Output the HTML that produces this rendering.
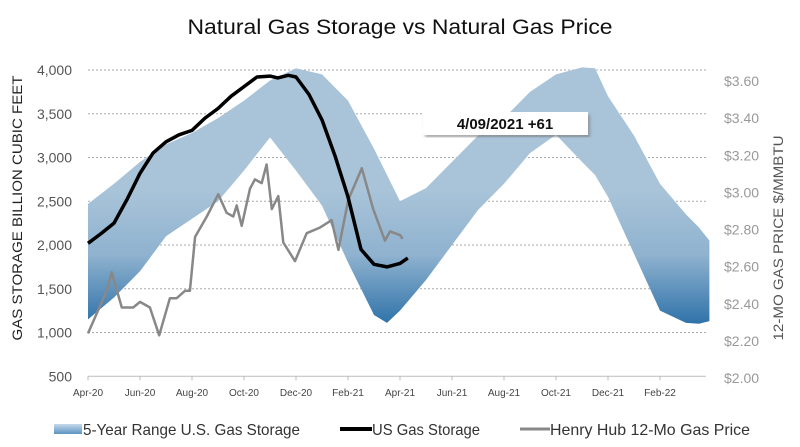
<!DOCTYPE html>
<html><head><meta charset="utf-8"><style>
body{margin:0;background:#fff;width:800px;height:442px;overflow:hidden;font-family:"Liberation Sans",sans-serif}
</style></head><body>
<svg id="chart" width="800" height="442" xmlns="http://www.w3.org/2000/svg">
<defs>
<linearGradient id="bandGrad" gradientUnits="userSpaceOnUse" x1="0" y1="190" x2="0" y2="335">
<stop offset="0" stop-color="#a9c4d9"/><stop offset="0.45" stop-color="#8fb2cf"/><stop offset="1" stop-color="#1f68a3"/>
</linearGradient>
<linearGradient id="legGrad" x1="0" y1="0" x2="0" y2="1"><stop offset="0" stop-color="#c5d9ea"/><stop offset="1" stop-color="#5c93c2"/></linearGradient>
<filter id="shadow"><feDropShadow dx="2" dy="3" stdDeviation="1.5" flood-color="#777" flood-opacity="0.6"/></filter>
</defs>
<text x="400" y="34" text-anchor="middle" font-size="21" fill="#111" textLength="425" lengthAdjust="spacingAndGlyphs">Natural Gas Storage vs Natural Gas Price</text>
<g id="grid"></g><g id="band"></g><g id="lines"></g><g id="axes"></g>
<g>
<rect x="423" y="112" width="165" height="23" fill="#fff" filter="url(#shadow)"/>
<text x="505" y="129" text-anchor="middle" font-size="15" font-weight="bold" fill="#111">4/09/2021  +61</text>
</g>
<text transform="translate(22,208) rotate(-90)" text-anchor="middle" font-size="14" fill="#222" textLength="265" lengthAdjust="spacingAndGlyphs">GAS STORAGE BILLION CUBIC FEET</text>
<text transform="translate(783,238) rotate(-90)" text-anchor="middle" font-size="14" fill="#555" textLength="205" lengthAdjust="spacingAndGlyphs">12-MO GAS PRICE $/MMBTU</text>
<g font-size="16" fill="#333">
<g><rect x="54" y="424" width="28" height="10" fill="url(#legGrad)"/><text x="83" y="435" textLength="217" lengthAdjust="spacingAndGlyphs">5-Year Range U.S. Gas Storage</text></g>
<g><line x1="340" y1="429" x2="372" y2="429" stroke="#000" stroke-width="4"/><text x="372" y="435" textLength="108" lengthAdjust="spacingAndGlyphs">US Gas Storage</text></g>
<g><line x1="520" y1="429" x2="550" y2="429" stroke="#888" stroke-width="3"/><text x="550" y="435" textLength="200" lengthAdjust="spacingAndGlyphs">Henry Hub 12-Mo Gas Price</text></g>
</g>
</svg>
<script>
const monthLabels=["Apr-20","Jun-20","Aug-20","Oct-20","Dec-20","Feb-21","Apr-21","Jun-21","Aug-21","Oct-21","Dec-21","Feb-22"];
const leftTicks=[500,1000,1500,2000,2500,3000,3500,4000];
const rightTicks=[2.0,2.2,2.4,2.6,2.8,3.0,3.2,3.4,3.6];
const bandMonths=[0,1,2,3,4,5,6,7,8,9,10,11,11.5,12,13,14,15,16,17,18,19,19.5,20,21,22,23,23.5,23.9];
const bandUpper=[2470,2700,2950,3150,3280,3450,3650,3880,4020,3950,3650,3100,2800,2500,2650,2950,3250,3450,3750,3950,4030,4020,3700,3250,2700,2350,2200,2050];
const bandLower=[1150,1400,1700,2100,2300,2500,2850,3230,2850,2450,1800,1200,1110,1250,1600,2000,2400,2700,3050,3260,2950,2800,2550,1900,1250,1110,1100,1130];
const storageMonths=[0,0.5,1,1.5,2,2.5,3,3.5,4,4.5,5,5.5,6,6.5,7,7.3,7.7,8,8.5,9,9.5,10,10.5,11,11.5,12,12.3];
const storageValues=[2020,2130,2250,2520,2820,3050,3180,3260,3310,3450,3560,3700,3810,3920,3930,3910,3940,3920,3720,3430,3020,2550,1950,1780,1750,1790,1850];
const priceMonths=[0,0.72,0.91,1.3,1.74,2.0,2.38,2.74,3.15,3.41,3.73,3.92,4.12,4.57,5.01,5.33,5.59,5.72,5.91,6.23,6.42,6.68,6.87,7.07,7.32,7.51,7.96,8.41,8.92,9.37,9.63,10.01,10.53,10.97,11.42,11.62,12.0,12.1];
const priceValues=[2.24,2.47,2.57,2.38,2.38,2.41,2.38,2.23,2.43,2.43,2.47,2.47,2.76,2.87,2.99,2.89,2.87,2.93,2.82,3.02,3.07,3.05,3.15,2.91,2.98,2.73,2.63,2.78,2.81,2.85,2.69,2.96,3.13,2.91,2.74,2.79,2.77,2.75];
const NS="http://www.w3.org/2000/svg";
const X0=88,XW=26,XR=706;
const xS=m=>X0+m*XW;
const yL=v=>70+(4000-v)*0.0875;
const yR=p=>378-(p-2)/1.6*297;
function mk(tag,attrs,parent){const e=document.createElementNS(NS,tag);for(const k in attrs)e.setAttribute(k,attrs[k]);parent.appendChild(e);return e;}
const grid=document.getElementById('grid'),axes=document.getElementById('axes'),band=document.getElementById('band'),lines=document.getElementById('lines');
leftTicks.forEach(v=>{
  if(v>500){const g=mk('line',{x1:X0,x2:XR,y1:yL(v),y2:yL(v),stroke:'#aaa','stroke-dasharray':'2,2','stroke-width':1},grid);
  
  }
  const t=mk('text',{x:72,y:yL(v)+5,'text-anchor':'end','font-size':14,fill:'#555'},axes);t.textContent=v.toLocaleString('en-US');
  
  
});
const ax=mk('line',{x1:X0,x2:XR,y1:yL(500),y2:yL(500),stroke:'#bbb','stroke-width':1},axes);


rightTicks.forEach(p=>{
  const t=mk('text',{x:724,y:yR(p)+5,'font-size':14,fill:'#999'},axes);t.textContent='$'+p.toFixed(2);
  
  
});
monthLabels.forEach((l,i)=>{
  const m=i*2;
  mk('line',{x1:xS(m),x2:xS(m),y1:yL(500),y2:yL(500)+4,stroke:'#bbb'},axes);
  const t=mk('text',{x:xS(m),y:396,'text-anchor':'middle','font-size':10,fill:'#444'},axes);t.textContent=l;
  
  
});
let d='';
bandMonths.forEach((m,i)=>{d+=(i?'L':'M')+xS(m).toFixed(1)+','+yL(bandUpper[i]).toFixed(1);});
for(let i=bandMonths.length-1;i>=0;i--)d+='L'+xS(bandMonths[i]).toFixed(1)+','+yL(bandLower[i]).toFixed(1);
const bp=mk('path',{d:d+'Z',fill:'url(#bandGrad)'},band);


const pp=mk('polyline',{points:priceMonths.map((m,i)=>xS(m).toFixed(1)+','+yR(priceValues[i]).toFixed(1)).join(' '),fill:'none',stroke:'#888','stroke-width':2.5,'stroke-linejoin':'round'},lines);


const sp=mk('polyline',{points:storageMonths.map((m,i)=>xS(m).toFixed(1)+','+yL(storageValues[i]).toFixed(1)).join(' '),fill:'none',stroke:'#000','stroke-width':3.5,'stroke-linejoin':'round'},lines);


</script>
</body></html>
